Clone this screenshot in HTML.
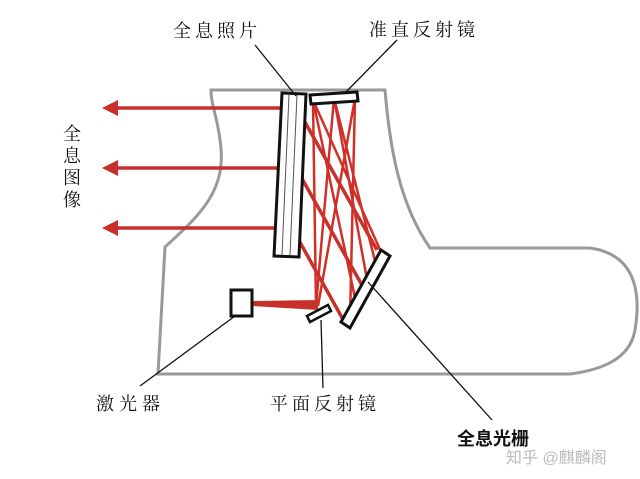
<!DOCTYPE html>
<html><head><meta charset="utf-8"><style>
html,body{margin:0;padding:0;background:#fff;}
svg{display:block}
text{font-family:"Liberation Serif","Noto Serif CJK SC","Noto Sans CJK SC",serif;fill:#111;}
</style></head><body>
<svg width="640" height="479" viewBox="0 0 640 479" xmlns="http://www.w3.org/2000/svg">
<!-- outline -->
<path d="M211,90 L385,90 C390,150 400,205 430,248 L590,248 C640,255 640,300 635,330 C630,360 600,370 570,374 L158,374 L165,247 C200,215 228,190 220,140 C217,115 211,105 211,90 Z" fill="none" stroke="#999" stroke-width="3"/>
<!-- rays -->
<g stroke="#c8302c" stroke-width="3.5" fill="none" stroke-linejoin="round">
<path d="M115,108 L297,108 L377,250"/>
<path d="M115,168 L296,168 L363,287"/>
<path d="M115,228 L292,228 L345,323"/>
</g>
<g fill="#c8302c">
<polygon points="102,108 118,100 118,116"/>
<polygon points="102,168 118,160 118,176"/>
<polygon points="102,228 118,220 118,236"/>
</g>
<g stroke="#d03028" stroke-width="2.5" fill="none">
<path d="M316,306 L313,100"/>
<path d="M316,306 L334,98"/>
<path d="M318,306 L355,98"/>
<path d="M313,100 L382,254"/>
<path d="M334,98 L368,285"/>
<path d="M355,98 L350,320"/>
<path d="M313,100 L358,312"/>
<path d="M334,98 L376,265"/>
</g>
<polygon points="252,301 318,300 318,310 252,306" fill="#c8302c"/>
<!-- hologram plate -->
<polygon points="282,93 306,94 299,257 274,256" fill="#fff" stroke="#111" stroke-width="3"/>
<line x1="289" y1="95" x2="282" y2="255" stroke="#555" stroke-width="1"/>
<line x1="297" y1="95" x2="290" y2="255" stroke="#555" stroke-width="1"/>
<!-- collimator -->
<polygon points="310,95 357,92 358,101 311,104" fill="#fff" stroke="#111" stroke-width="3"/>
<!-- grating -->
<polygon points="381,250 390,256 350,328 341,322" fill="#fff" stroke="#111" stroke-width="3"/>
<!-- plane mirror -->
<polygon points="307,316 328,305 331,311 310,322" fill="#fff" stroke="#111" stroke-width="2.5"/>
<!-- laser -->
<rect x="231" y="290" width="21" height="26" fill="#fff" stroke="#111" stroke-width="3"/>
<!-- leaders -->
<g stroke="#111" stroke-width="1.3">
<line x1="255" y1="45" x2="296" y2="96"/>
<line x1="397" y1="40" x2="345" y2="93"/>
<line x1="140" y1="386" x2="235" y2="316"/>
<line x1="321" y1="320" x2="323" y2="388"/>
<line x1="368" y1="282" x2="492" y2="420"/>
</g>
<!-- labels -->
<text x="173" y="37" font-size="18" letter-spacing="4">全息照片</text>
<text x="369" y="36" font-size="18" letter-spacing="4">准直反射镜</text>
<text x="96" y="410" font-size="18" letter-spacing="5">激光器</text>
<text x="270" y="410" font-size="18" letter-spacing="4">平面反射镜</text>
<g font-size="18">
<text x="63" y="140">全</text>
<text x="63" y="162">息</text>
<text x="63" y="184">图</text>
<text x="63" y="206">像</text>
</g>
<text x="457" y="445" font-size="18" font-weight="bold" style="font-family:'Liberation Sans','Noto Sans CJK SC',sans-serif">全息光栅</text>
<text x="506" y="463" font-size="16" fill="#bbb" style="fill:#bbb;font-family:'Liberation Sans','Noto Sans CJK SC',sans-serif">知乎 @麒麟阁</text>
</svg>
</body></html>
